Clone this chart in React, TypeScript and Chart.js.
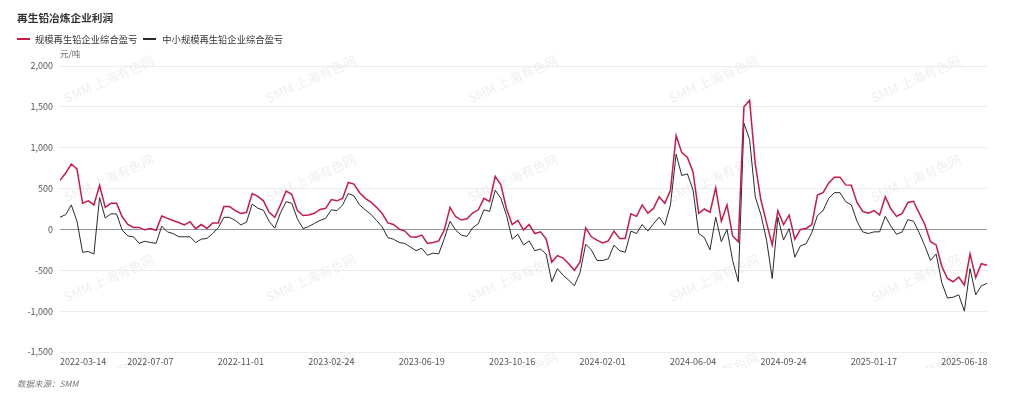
import React, { useEffect, useRef } from 'react';
import { Chart, registerables } from 'chart.js';

Chart.register(...registerables);

// ---- data ----
const titleText = '再生铅冶炼企业利润';
const unitText = '元/吨';
const sourceText = '数据来源：SMM';
const watermarkText = 'SMM 上海有色网';
const seriesNames = ['规模再生铅企业综合盈亏', '中小规模再生铅企业综合盈亏'];
const seriesColors = ['#c51a4a', '#2a2a2a'];

const xTickLabels = [
  '2022-03-14', '2022-07-07', '2022-11-01', '2023-02-24', '2023-06-19', '2023-10-16',
  '2024-02-01', '2024-06-04', '2024-09-24', '2025-01-17', '2025-06-18',
];
const POINTS_PER_TICK = 16;
const yTickValues = [-1500, -1000, -500, 0, 500, 1000, 1500, 2000];

const largeSmelters = [
  600, 690, 800, 740, 320, 350, 300, 540, 270, 320, 320, 155, 60, 25, 25, -5,
  10, -10, 165, 135, 110, 85, 55, 95, 10, 60, 12, 80, 80, 280, 280, 230,
  195, 210, 440, 405, 350, 210, 148, 300, 470, 430, 230, 170, 176, 197, 245, 258,
  365, 350, 380, 575, 555, 450, 380, 335, 270, 195, 80, 60, 5, -20, -90, -95,
  -70, -172, -160, -140, -5, 270, 155, 115, 130, 200, 240, 380, 340, 650, 545, 250,
  60, 110, -8, 60, -50, -30, -115, -400, -320, -350, -420, -500, -400, 20, -90, -130,
  -165, -140, -20, -110, -110, 190, 160, 300, 200, 257, 400, 320, 480, 1150, 940, 880,
  700, 196, 250, 210, 510, 100, 300, -80, -150, 1500, 1580, 800, 360, 80, -190, 230,
  60, 175, -120, 0, 12, 60, 420, 450, 570, 640, 640, 545, 540, 330, 220, 200,
  230, 176, 400, 250, 160, 197, 330, 345, 200, 60, -150, -190, -450, -600, -640, -582,
  -680, -300, -590, -420, -440,
];

const smallSmelters = [
  150, 180, 300, 100, -280, -270, -300, 390, 140, 190, 190, -8, -80, -90, -170, -145,
  -160, -170, 40, -30, -50, -90, -90, -90, -160, -120, -110, -50, 20, 148, 148, 110,
  55, 90, 310, 260, 235, 100, 15, 200, 340, 320, 130, 10, 35, 74, 110, 135,
  240, 230, 300, 440, 410, 300, 240, 185, 110, 30, -100, -120, -160, -172, -215, -260,
  -230, -316, -290, -300, -110, 100, -8, -70, -85, 20, 70, 240, 220, 480, 380, 170,
  -120, -60, -190, -140, -260, -240, -300, -640, -480, -560, -620, -690, -530, -180, -250, -380,
  -380, -360, -193, -260, -280, -20, -50, 60, -20, 70, 150, 50, 300, 920, 660, 680,
  480, -49, -100, -250, 150, -150, 0, -380, -640, 1300, 1100, 400, 180, -130, -600, 150,
  -130, 10, -340, -200, -175, -40, 170, 230, 380, 450, 450, 340, 300, 100, -29, -50,
  -30, -29, 160, 40, -60, -29, 120, 100, -40, -200, -380, -300, -650, -840, -830, -800,
  -1000, -480, -800, -690, -660,
];

const FONT = '"Noto Sans CJK SC", "Noto Sans", sans-serif';

const watermarkPlugin = {
  id: 'watermark',
  beforeDraw(chart: any) {
    const ctx = chart.ctx;
    ctx.save();
    ctx.beginPath();
    ctx.rect(0, 0, chart.width, 368);
    ctx.clip();
    ctx.fillStyle = 'rgba(0,0,0,0.07)';
    ctx.font = `13px ${FONT}`;
    ctx.textAlign = 'center';
    ctx.textBaseline = 'middle';
    const cols = [109, 311, 513, 714, 916];
    const rows = [79, 178, 278, 376];
    for (const cy of rows) {
      for (const cx of cols) {
        ctx.save();
        ctx.translate(cx, cy);
        ctx.rotate((-24 * Math.PI) / 180);
        ctx.fillText(watermarkText, 0, 0);
        ctx.restore();
      }
    }
    ctx.restore();
  },
};

const labelsPlugin = {
  id: 'customLabels',
  afterDraw(chart: any) {
    const ctx = chart.ctx;
    const xs = chart.scales.x;
    ctx.save();
    ctx.fillStyle = '#555';
    ctx.font = `9px ${FONT}`;
    ctx.textBaseline = 'middle';
    xTickLabels.forEach((lab, k) => {
      const px = xs.getPixelForValue(k * POINTS_PER_TICK);
      ctx.textAlign = k === 0 ? 'left' : 'center';
      ctx.fillText(lab, px, 362);
    });
    ctx.textAlign = 'left';
    ctx.fillStyle = '#666';
    ctx.font = `8.5px ${FONT}`;
    ctx.fillText(unitText, 60, 54);
    ctx.restore();
  },
};

export default function App() {
  const ref = useRef<HTMLCanvasElement | null>(null);

  useEffect(() => {
    document.body.style.margin = '0';
    if (!ref.current) return;
    const chart = new Chart(ref.current, {
      type: 'line',
      data: {
        datasets: [
          {
            label: seriesNames[0],
            data: largeSmelters.map((v, i) => ({ x: i, y: v })),
            borderColor: seriesColors[0],
            backgroundColor: seriesColors[0],
            borderWidth: 1.5,
            pointRadius: 0,
            tension: 0,
          },
          {
            label: seriesNames[1],
            data: smallSmelters.map((v, i) => ({ x: i, y: v })),
            borderColor: seriesColors[1],
            backgroundColor: seriesColors[1],
            borderWidth: 1,
            pointRadius: 0,
            tension: 0,
          },
        ],
      },
      options: {
        responsive: false,
        animation: false,
        devicePixelRatio: 1,
        layout: { padding: { left: 0, right: 37, top: 66, bottom: 27 } },
        plugins: {
          legend: { display: false },
          title: { display: false },
          tooltip: { enabled: false },
        },
        scales: {
          x: {
            type: 'linear',
            min: 0,
            max: largeSmelters.length - 1,
            grid: { display: false },
            border: { display: false },
            ticks: { color: 'rgba(0,0,0,0)', font: { size: 9 } },
            afterBuildTicks: (scale: any) => {
              scale.ticks = xTickLabels.map((_, k) => ({ value: k * POINTS_PER_TICK }));
            },
            afterFit: (scale: any) => {
              scale.height = 20;
            },
          },
          y: {
            min: yTickValues[0],
            max: yTickValues[yTickValues.length - 1],
            afterBuildTicks: (scale: any) => {
              scale.ticks = yTickValues.map((v) => ({ value: v }));
            },
            afterFit: (scale: any) => {
              scale.width = 60;
            },
            grid: {
              drawTicks: false,
              color: (c: any) => (c.tick && c.tick.value === 0 ? '#8d97a1' : '#ececec'),
              lineWidth: 1,
            },
            border: { display: false },
            ticks: {
              color: '#555',
              padding: 7,
              font: { size: 9, family: FONT },
              callback: (v: any) => Number(v).toLocaleString('en-US'),
            },
          },
        },
      },
      plugins: [watermarkPlugin, labelsPlugin],
    } as any);
    return () => chart.destroy();
  }, []);

  return (
    <div style={{ position: 'absolute', left: 0, top: 0, width: 1024, height: 399, background: '#fff', fontFamily: FONT }}>
      <canvas ref={ref} width={1024} height={399} style={{ position: 'absolute', left: 0, top: 0, width: 1024, height: 399 }} />
      <div style={{ position: 'absolute', left: 17, top: 10, fontSize: 10.7, fontWeight: 'bold', color: '#333', lineHeight: '16px', whiteSpace: 'nowrap' }}>
        {titleText}
      </div>
      <div style={{ position: 'absolute', left: 17, top: 31, height: 16, display: 'flex', alignItems: 'center', fontSize: 9.3, color: '#333', whiteSpace: 'nowrap' }}>
        <span style={{ display: 'inline-block', width: 13, height: 2, background: seriesColors[0], marginRight: 5 }} />
        <span>{seriesNames[0]}</span>
        <span style={{ display: 'inline-block', width: 13, height: 2, background: seriesColors[1], marginLeft: 6, marginRight: 6 }} />
        <span>{seriesNames[1]}</span>
      </div>
      <div style={{ position: 'absolute', left: 17, top: 376, fontSize: 8.5, fontStyle: 'italic', color: '#777', lineHeight: '14px', whiteSpace: 'nowrap' }}>
        {sourceText}
      </div>
    </div>
  );
}
